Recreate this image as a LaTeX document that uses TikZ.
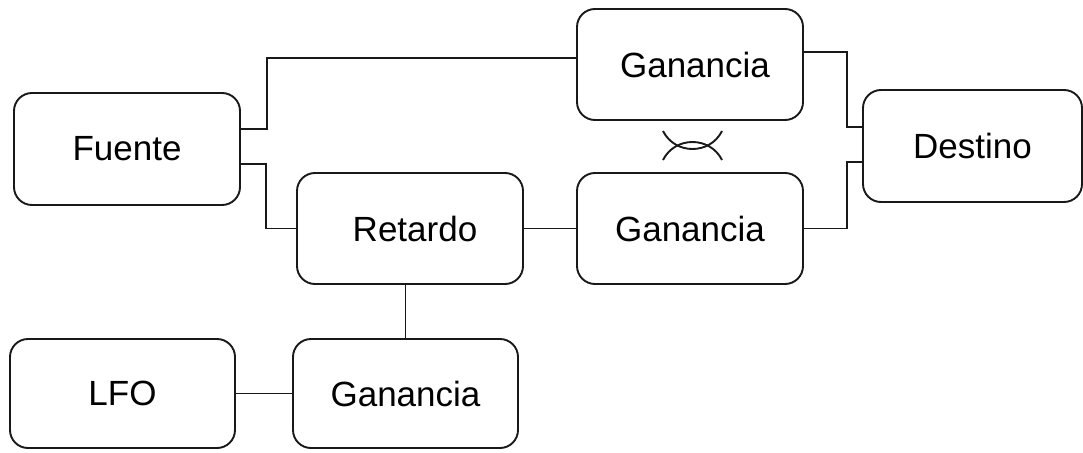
\documentclass[tikz,border=0pt]{standalone}
\usepackage{fontspec}
\setmainfont{Liberation Sans}
\begin{document}
\begin{tikzpicture}[x=1pt,y=-1pt,
  blk/.style={draw=black!90,line width=1.9pt,rounded corners=18pt,inner sep=0pt,
    font=\fontsize{35}{40}\selectfont},
  wire/.style={draw=black!90,line width=1.9pt}]
\useasboundingbox (0,0) rectangle (1083,452);
\node[blk,minimum width=226pt,minimum height=112pt] (fuente) at (127,149) {Fuente};
\node[blk,minimum width=226pt,minimum height=111pt] (g1) at (690,64.5) {\hspace{10pt}Ganancia};
\node[blk,minimum width=226pt,minimum height=111pt] (ret) at (410,228.5) {\hspace{10pt}Retardo};
\node[blk,minimum width=226pt,minimum height=111pt] (g2) at (690,228.5) {Ganancia};
\node[blk,minimum width=219pt,minimum height=112pt] (dest) at (972.5,146) {Destino};
\node[blk,minimum width=225pt,minimum height=109pt] (lfo) at (122.5,393.5) {LFO};
\node[blk,minimum width=225pt,minimum height=109pt] (g3) at (405.5,393.5) {Ganancia};
% connectors
\draw[wire] ([yshift=20pt]fuente.east) -- ++(26,0) |- ([yshift=6.5pt]g1.west);
\draw[wire] ([yshift=-15pt]fuente.east) -- ++(25,0) |- (ret.west);
\draw[wire] ([yshift=12.5pt]g1.east) -- ++(43,0) |- ([yshift=19pt]dest.west);
\draw[wire] (g2.east) -- ++(43,0) |- ([yshift=-16pt]dest.west);
\draw[wire] (ret.east) -- (g2.west);
\draw[wire] (g3.north) -- (g3.north |- ret.south);
\draw[wire] (lfo.east) -- (g3.west);
% crossing symbol
\draw[wire,line width=1.9pt] (663,131) .. controls (675,155) and (710,155) .. (722,131);
\draw[wire,line width=1.9pt] (663,160) .. controls (675,136) and (710,136) .. (722,160);
\end{tikzpicture}
\end{document}
